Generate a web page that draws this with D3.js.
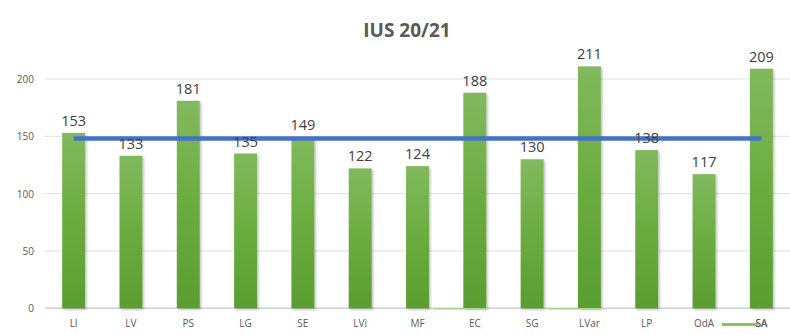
<!DOCTYPE html>
<html><head><meta charset="utf-8">
<script src="https://cdn.jsdelivr.net/npm/d3@7"></script>
<style>body{margin:0;background:#fff}svg{display:block}</style>
</head><body><div id="chart"></div>
<script>
const categories = ["LI","LV","PS","LG","SE","LVi","MF","EC","SG","LVar","LP","OdA","SA"];
const values = [153,133,181,135,149,122,124,188,130,211,138,117,209];
const reference = [148,148,148,148,148,148,148,148,148,148,148,148,148];
const baseMarks = ["EC","LVar"];
const yTicks = [0,50,100,150,200];
const title = "IUS 20/21";

const W = 790, H = 335;
const svg = d3.select("#chart").append("svg").attr("width", W).attr("height", H);
const defs = svg.append("defs");
const grad = defs.append("linearGradient").attr("id","bg").attr("x1",0).attr("y1",0).attr("x2",0).attr("y2",1);
grad.append("stop").attr("offset","0%").attr("stop-color","#82B95E");
grad.append("stop").attr("offset","45%").attr("stop-color","#6DAE42");
grad.append("stop").attr("offset","100%").attr("stop-color","#5A9D30");
const f = defs.append("filter").attr("id","sh").attr("x","-20%").attr("y","-5%").attr("width","150%").attr("height","115%");
f.append("feDropShadow").attr("dx",1.5).attr("dy",1.5).attr("stdDeviation",1.2).attr("flood-color","#000").attr("flood-opacity",0.25);

const x = d3.scaleBand().domain(categories).range([45, 790]).paddingInner(0.6).paddingOuter(0.3);
const y = d3.scaleLinear().domain([0, 200]).range([308.3, 79]);

// gridlines
svg.append("g").selectAll("line").data(yTicks).join("line")
  .attr("x1", 45).attr("x2", 790)
  .attr("y1", d => y(d)).attr("y2", d => y(d))
  .attr("stroke", d => d === 0 ? "#d0d0d0" : "#e0e0e0").attr("stroke-width", d => d===0?1.5:1);

// y tick labels
svg.append("g").selectAll("text").data(yTicks).join("text")
  .attr("x", 34).attr("y", d => y(d) + 4)
  .attr("text-anchor", "end")
  .attr("font-family", "Open Sans, Liberation Sans, sans-serif").attr("font-size", 10)
  .attr("fill", "#595959").text(d => d);

// bars
svg.append("g").selectAll("rect").data(values).join("rect")
  .attr("x", (d,i) => x(categories[i]))
  .attr("width", x.bandwidth())
  .attr("y", d => y(d))
  .attr("height", d => y(0) - y(d))
  .attr("fill", "url(#bg)")
  .attr("filter", "url(#sh)");

// base marks (thin light green lines)
svg.append("g").selectAll("line").data(baseMarks).join("line")
  .attr("x1", d => x(d) - x.step()*0.52)
  .attr("x2", d => x(d) + x.bandwidth() + 1)
  .attr("y1", y(0) + 0.5).attr("y2", y(0) + 0.5)
  .attr("stroke", "#A9D18E").attr("stroke-width", 1.5);

// reference line
const line = d3.line().x((d,i) => x(categories[i]) + x.bandwidth()/2).y(d => y(d));
svg.append("path").datum(reference).attr("d", line)
  .attr("fill", "none").attr("stroke", "#4472C4").attr("stroke-width", 4.5)
  .attr("stroke-linecap", "butt");

// data labels
svg.append("g").selectAll("text").data(values).join("text")
  .attr("x", (d,i) => x(categories[i]) + x.bandwidth()/2)
  .attr("y", d => y(d) - 7)
  .attr("text-anchor", "middle")
  .attr("font-family", "Open Sans, Liberation Sans, sans-serif").attr("font-size", 14.5)
  .attr("fill", "#404040").text(d => d);

// x labels
svg.append("g").selectAll("text").data(categories).join("text")
  .attr("x", d => x(d) + x.bandwidth()/2)
  .attr("y", 327)
  .attr("text-anchor", "middle")
  .attr("font-family", "Open Sans, Liberation Sans, sans-serif").attr("font-size", 10)
  .attr("fill", "#595959").text(d => d);

// legend line
svg.append("line").attr("x1", x("SA") - 28).attr("x2", x("SA") + 8)
  .attr("y1", 324.5).attr("y2", 324.5)
  .attr("stroke", "#8CC15E").attr("stroke-width", 3);
svg.append("text").attr("x", x("SA") + x.bandwidth()/2).attr("y", 327)
  .attr("text-anchor","middle").attr("font-family","Open Sans, Liberation Sans, sans-serif")
  .attr("font-size",10).attr("fill","#595959").text("SA");

// title
svg.append("text").attr("x", 407).attr("y", 37)
  .attr("text-anchor", "middle")
  .attr("font-family", "Open Sans, Liberation Sans, sans-serif").attr("font-size", 19).attr("font-weight", "bold")
  .attr("fill", "#595959").text(title);
</script></body></html>
